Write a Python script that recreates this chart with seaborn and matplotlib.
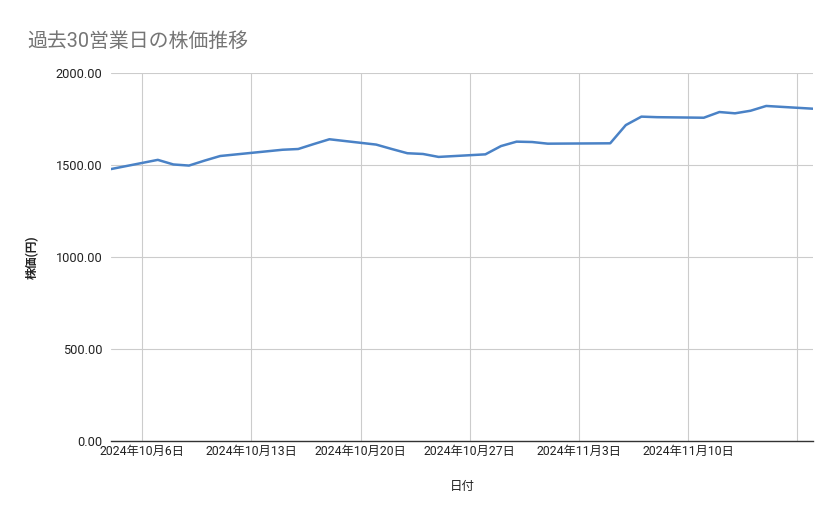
import numpy as np
import pandas as pd
import seaborn as sns
import matplotlib.pyplot as plt
import matplotlib.dates as mdates

# 過去30営業日の終値（チャートから読み取り）
dates = ["2024-10-04", "2024-10-07", "2024-10-08", "2024-10-09", "2024-10-10",
         "2024-10-11", "2024-10-15", "2024-10-16", "2024-10-17", "2024-10-18",
         "2024-10-21", "2024-10-22", "2024-10-23", "2024-10-24", "2024-10-25",
         "2024-10-28", "2024-10-29", "2024-10-30", "2024-10-31", "2024-11-01",
         "2024-11-05", "2024-11-06", "2024-11-07", "2024-11-08", "2024-11-11",
         "2024-11-12", "2024-11-13", "2024-11-14", "2024-11-15", "2024-11-18"]
prices = [1478, 1528, 1503, 1497, 1524,
          1549, 1583, 1587, 1614, 1640,
          1611, 1587, 1564, 1560, 1544,
          1558, 1603, 1627, 1625, 1616,
          1618, 1717, 1763, 1760, 1757,
          1788, 1781, 1795, 1821, 1806]

tick_dates = ["2024-10-06", "2024-10-13", "2024-10-20", "2024-10-27",
              "2024-11-03", "2024-11-10", "2024-11-17"]
tick_labels = ["2024年10月6日", "2024年10月13日", "2024年10月20日", "2024年10月27日",
               "2024年11月3日", "2024年11月10日", ""]
y_ticks = [0, 500, 1000, 1500, 2000]

df = pd.DataFrame({"日付": pd.to_datetime(dates), "株価": prices})

sns.set_style("white")
plt.rcParams['font.family'] = ['Roboto', 'Noto Sans CJK JP', 'DejaVu Sans']

fig = plt.figure(figsize=(8.39, 5.19), dpi=100)
ax = fig.add_axes([0.1323, 0.1503, 0.8367, 0.709])

sns.lineplot(data=df, x="日付", y="株価", ax=ax, color="#4a82c6", linewidth=1.8)

ax.set_xlim(pd.Timestamp("2024-10-04"), pd.Timestamp("2024-11-18"))
ax.set_ylim(0, 2000)

ax.set_xticks(pd.to_datetime(tick_dates))
ax.set_xticklabels(tick_labels, fontsize=8.8, color="#222222")
ax.set_yticks(y_ticks)
ax.set_yticklabels([f"{v:.2f}" for v in y_ticks], fontsize=9.2, color="#222222")
ax.tick_params(axis="both", length=0, pad=6)
ax.tick_params(axis="x", pad=3)

ax.grid(True, color="#cccccc", linewidth=0.8)
ax.set_axisbelow(True)
for s in ["top", "right", "left"]:
    ax.spines[s].set_visible(False)
ax.spines["bottom"].set_color("#333333")
ax.spines["bottom"].set_linewidth(1.0)

ax.set_xlabel("日付", fontsize=9, color="#222222", labelpad=16)
ax.set_ylabel("株価(円)", fontsize=8.5, color="#222222", fontweight="bold", labelpad=12)

fig.text(0.032, 0.921, "過去30営業日の株価推移", fontsize=14.3, color="#757575", va="center")

fig.savefig("out.png", dpi=100)
